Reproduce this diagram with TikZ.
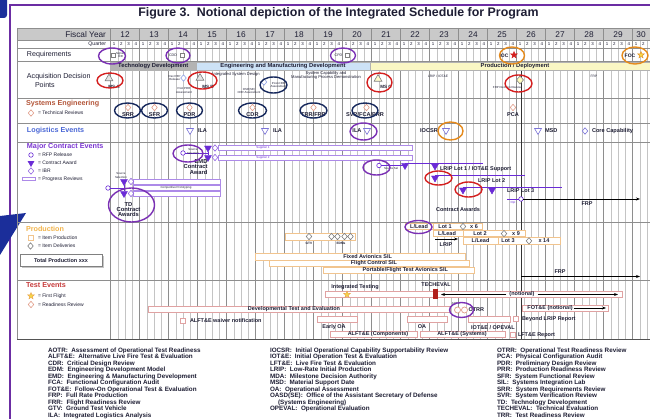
\documentclass[tikz,border=0pt]{standalone}
\usepackage{fontspec}
\setmainfont{Liberation Sans}
\usetikzlibrary{shapes.geometric,arrows.meta}

\definecolor{framevio}{HTML}{6B2DA3}
\definecolor{cornerblue}{HTML}{1B2E9A}
\definecolor{hdrgray}{HTML}{C9C9C9}
\definecolor{qgray}{HTML}{C4C4C4}
\definecolor{ygray}{HTML}{8E8E8E}
\definecolor{tdfill}{HTML}{B3B3B3}
\definecolor{emdfill}{HTML}{CDE2F6}
\definecolor{pdfill}{HTML}{FAF7C4}
\definecolor{msred}{HTML}{D41F1F}
\definecolor{revnavy}{HTML}{16285C}
\definecolor{ringvio}{HTML}{7A30B4}
\definecolor{ringorg}{HTML}{E58A1C}
\definecolor{sefg}{HTML}{B4573B}
\definecolor{logfg}{HTML}{4A67D6}
\definecolor{mcefg}{HTML}{7B36D2}
\definecolor{prodfg}{HTML}{F2B44C}
\definecolor{testfg}{HTML}{C73B3B}
\definecolor{prodline}{HTML}{F1C48E}
\definecolor{testline}{HTML}{E0A2A2}
\definecolor{award}{HTML}{6A2BD6}
\definecolor{revdia}{HTML}{E29E8A}
\definecolor{logtri}{HTML}{7C74D8}
\definecolor{ink}{HTML}{1E1E34}
\definecolor{techred}{HTML}{B0201C}
\definecolor{staryel}{HTML}{F5D547}

\tikzset{
  base/.style={inner sep=0pt, outer sep=0pt},
  rowlab/.style={base, anchor=west, text=ink, font=\fontsize{7.1}{8}\selectfont},
  grouplab/.style={base, anchor=west, font=\bfseries\fontsize{7.2}{8}\selectfont},
  keytxt/.style={base, anchor=west, text=ink, font=\fontsize{5}{6}\selectfont},
  tinytxt/.style={base, text=ink, align=center, font=\fontsize{2.9}{3.3}\selectfont},
  subtxt/.style={base, text=ink, align=center, font=\fontsize{4.1}{4.4}\selectfont},
  revtxt/.style={base, text=ink, font=\bfseries\fontsize{5.6}{6}\selectfont},
  mstxt/.style={base, text=ink, font=\bfseries\fontsize{4.6}{5}\selectfont},
  itemtxt/.style={base, text=ink, font=\bfseries\fontsize{5.5}{6}\selectfont},
  phase/.style={base, draw=gray!60, minimum height=7.5pt, text=ink, font=\bfseries\fontsize{5.8}{6}\selectfont},
  ring/.style={base, ellipse, draw=#1, line width=1.4pt},
  revdiamond/.style={base, diamond, draw=#1, fill=white, line width=0.6pt, minimum width=5.5pt, minimum height=6.5pt},
  downtri/.style={base, regular polygon, regular polygon sides=3, shape border rotate=180, draw=#1, fill=white, line width=0.6pt, minimum size=8pt},
  awardtri/.style={base, regular polygon, regular polygon sides=3, shape border rotate=180, draw=award, fill=award, minimum size=8pt},
  uptri/.style={base, regular polygon, regular polygon sides=3, draw=gray, fill=gray!20, line width=0.6pt, minimum size=9pt},
  rfpmark/.style={base, circle, draw=award, fill=white, line width=0.6pt, minimum size=4.5pt},
  sqmark/.style={base, rectangle, draw=#1, fill=white, line width=0.6pt, minimum size=4pt},
  starmark/.style={base, star, star points=5, star point ratio=2.3, draw=#1, fill=#1, minimum size=7pt},
  prodbar/.style={base, draw=prodline, fill=white, line width=0.7pt, minimum height=6.5pt},
  testbar/.style={base, draw=testline, fill=white, line width=0.7pt, minimum height=6pt},
  conbar/.style={base, draw=award!55, fill=white, line width=0.7pt, minimum height=5pt},
  conline/.style={draw=award, line width=0.9pt},
  blackarrow/.style={draw=black, line width=0.7pt, -{Stealth[length=4pt,width=3pt]}},
  qline/.style={draw=qgray, line width=0.4pt},
  yline/.style={draw=ygray, line width=0.5pt},
  rline/.style={draw=ygray, line width=0.6pt},
  gloss/.style={base, anchor=north west, align=left, text=ink, font=\bfseries\fontsize{6.3}{6.5}\selectfont},
}

\begin{document}
\begin{tikzpicture}[x=1pt,y=-1pt]
\useasboundingbox (0,0) rectangle (650,419);
\fill[white] (0,0) rectangle (650,419);

% ---------- outer frame and corner marks ----------
\draw[framevio, line width=2pt] (10,419) -- (10,5) -- (650,5);
\fill[cornerblue, rounded corners=3pt] (-5,-5) rectangle (7,18);
\fill[cornerblue] (0,216) -- (26,213) -- (0,255) -- cycle;

\node[base, text=ink, font=\bfseries\fontsize{12.4}{13}\selectfont] (title) at (338.5,13.5)
  {Figure 3.\ \ Notional depiction of the Integrated Schedule for Program};

% ---------- table skeleton ----------
\fill[hdrgray] (17,28) rectangle (650,40);
\begin{scope}
  \clip (17,28) rectangle (650,340);
  \foreach \i in {1,...,75}{
    \pgfmathtruncatemacro\r{mod(\i,4)}
    \ifnum\r=0
      \draw[yline] ({110.5+\i*7.25},28) -- ({110.5+\i*7.25},339);
    \else
      \draw[qline] ({110.5+\i*7.25},40) -- ({110.5+\i*7.25},339);
    \fi
  }
\end{scope}
\draw[yline] (110.5,28) -- (110.5,339);
\foreach \yy in {28,40,48,61,98,123,142,222,280}
  \draw[rline] (17,\yy) -- (650,\yy);
\draw[rline] (17,28) -- (17,339);
\draw[gray!65!black, line width=1.3pt] (17,339.5) -- (650,339.5);
\draw[gray!40!black, line width=0.6pt] (521,70) -- (521,339);

% ---------- header ----------
\node[base, anchor=east, text=ink, font=\fontsize{8.3}{9}\selectfont] (fylab) at (106,34.3) {Fiscal Year};
\foreach \k [count=\i from 0] in {12,...,29}
  \node[base, text=ink, font=\fontsize{8.3}{9}\selectfont] (fy\k) at ({125+\i*29},34.3) {\k};
\node[base, text=ink, font=\fontsize{8.3}{9}\selectfont] (fy30) at (641,34.3) {30};
\node[base, anchor=east, text=ink, font=\fontsize{5.2}{6}\selectfont] (qlab) at (106,44.2) {Quarter};
\foreach \i in {0,...,73}{
  \pgfmathtruncatemacro\q{mod(\i,4)+1}
  \node[base, text=ink, font=\fontsize{4.4}{5}\selectfont] (q\i) at ({114.1+\i*7.25},44.3) {\q};
}

% ---------- row labels ----------
\node[rowlab] (reqlab) at (27,55) {Requirements};
\node[rowlab] (adplab1) at (27,76.5) {Acquisition Decision};
\node[rowlab] (adplab2) at (35,84.5) {Points};

% ---------- requirements ----------
\node[sqmark=gray] (icdsq) at (113,55) {};
\node[tinytxt, anchor=west] (icdtx) at (116,55) {Signed\\ICD};
\node[tinytxt, font=\fontsize{3.6}{4}\selectfont] (cddtx) at (173,55) {CDD};
\node[sqmark=gray] (cddsq) at (182.5,55) {};
\node[tinytxt, font=\fontsize{3.6}{4}\selectfont] (cpdtx) at (338.5,55) {CPD};
\node[sqmark=gray] (cpdsq) at (347,55) {};
\node[mstxt, font=\bfseries\fontsize{5}{5}\selectfont] (ioctx) at (504,55.5) {IOC};
\node[starmark=msred] (iocst) at (514,55) {};
\node[mstxt, font=\bfseries\fontsize{5}{5}\selectfont] (foctx) at (630,55.5) {FOC};
\node[starmark=staryel, draw=ringorg] (focst) at (641,55) {};

% ---------- acquisition phases and decision points ----------
\node[phase, fill=tdfill, minimum width=85.5pt] (tdph) at (153.25,66.25) {Technology Development};
\node[phase, fill=emdfill, minimum width=174pt] (emdph) at (283,66.25) {Engineering and Manufacturing Development};
\node[phase, fill=pdfill, minimum width=290pt] (pdph) at (515,66.25) {Production / Deployment};

\node[subtxt] (isdtx) at (236,74.5) {Integrated System Design};
\node[subtxt] (scmpd) at (326,75.5) {System Capability and\\Manufacturing Process Demonstration};
\node[subtxt, font=\fontsize{3.3}{3.6}\selectfont] (lripiot) at (438,76.5) {LRIP / IOT\&E};
\node[subtxt, font=\fontsize{3.3}{3.6}\selectfont] (frpph) at (594,76.5) {FRP};

\node[uptri] (msAtri) at (109,78.5) {};
\node[mstxt] (msAtx) at (114,86.5) {MS A};
\node[tinytxt, anchor=east] (devrfptx) at (180.5,78) {Dev RFP\\Release};
\node[revdiamond=logfg!60] (devrfp) at (183.5,78) {};
\node[uptri] (msBtri) at (200,78) {};
\node[mstxt] (msBtx) at (208,86.5) {MS B};
\node[tinytxt] (ppdr) at (184,90.5) {Post PDR\\Assessment};
\node[revdiamond=logfg!60] (pcdrd) at (264,82) {};
\node[tinytxt] (pcdrtx) at (278.5,85) {Post-CDR\\Assessment};
\node[tinytxt] (osdse) at (249,91) {OSD(SE)\\CDR Assessment};
\node[uptri, fill=yellow!20] (msCtri) at (378,79) {};
\node[mstxt] (msCtx) at (386,86.5) {MS C};
\node[revdiamond=gray, fill=yellow!25, minimum width=7pt, minimum height=8pt] (frpdr) at (520,80) {};
\node[tinytxt] (frpdrtx) at (507,87.5) {FRP Decision Review};

% ---------- systems engineering ----------
\node[grouplab, text=sefg] (selab) at (26,103.5) {Systems Engineering};
\node[revdiamond=revdia] (sekey) at (31,113) {};
\node[keytxt] (sekeytx) at (38,113) {= Technical Reviews};

\node[revdiamond=revdia] (dSRR) at (128,107.5) {};
\node[revtxt] (tSRR) at (128,114.5) {SRR};
\node[revdiamond=revdia] (dSFR) at (154.5,107.5) {};
\node[revtxt] (tSFR) at (154.5,114.5) {SFR};
\node[revdiamond=revdia] (dPDR) at (189.5,107.5) {};
\node[revtxt] (tPDR) at (189.5,114.5) {PDR};
\node[revdiamond=revdia] (dCDR) at (252.5,107.5) {};
\node[revtxt] (tCDR) at (252.5,114.5) {CDR};
\node[revdiamond=revdia] (dTRR) at (313.5,107.5) {};
\node[revtxt] (tTRR) at (313.5,114.5) {TRR/FRR};
\node[revdiamond=revdia] (dSVR) at (366.5,107.5) {};
\node[revtxt] (tSVR) at (365,114.5) {SVR/FCA/PRR};
\node[revdiamond=revdia] (dPCA) at (513,107.5) {};
\node[revtxt] (tPCA) at (513,114.5) {PCA};

% ---------- logistics ----------
\node[grouplab, text=logfg] (loglab) at (27,130.5) {Logistics Events};
\node[downtri=logtri] (ila1) at (190,130.5) {};
\node[revtxt, anchor=west] (ila1t) at (198,131) {ILA};
\node[downtri=logtri] (ila2) at (265,130.5) {};
\node[revtxt, anchor=west] (ila2t) at (273,131) {ILA};
\node[revtxt] (ila3t) at (357,131) {ILA};
\node[downtri=logtri] (ila3) at (367,130.5) {};
\node[revtxt] (iocsrt) at (429,131) {IOCSR};
\node[downtri=logtri] (iocsr) at (446,130.5) {};
\node[downtri=logtri] (msd) at (538,130.5) {};
\node[revtxt, anchor=west] (msdt) at (545,131) {MSD};
\node[revdiamond=logtri] (corecap) at (585,131) {};
\node[revtxt, anchor=west] (corecapt) at (592,131) {Core Capability};

% ---------- major contract events ----------
\node[grouplab, text=mcefg] (mcelab) at (27,147) {Major Contract Events};
\node[rfpmark] (mck1) at (31,155) {};
\node[keytxt] (mck1t) at (38,155) {= RFP Release};
\node[awardtri, minimum size=7pt] (mck2) at (31,163) {};
\node[keytxt] (mck2t) at (38,163) {= Contract Award};
\node[revdiamond=award!70] (mck3) at (31,171) {};
\node[keytxt] (mck3t) at (38,171) {= IBR};
\node[conbar, minimum width=13pt, minimum height=3pt] (mck4) at (28.5,179) {};
\node[keytxt] (mck4t) at (38,179) {= Progress Reviews};

% TD phase contracts
\node[tinytxt] (tdss) at (121,175.5) {Source\\Selection};
\node[conbar, anchor=west, minimum width=87pt] (tdbar1) at (133,181.5) {};
\node[conbar, anchor=west, minimum width=87pt] (tdbar2) at (133,187.5) {};
\node[conbar, anchor=west, minimum width=87pt] (tdbar3) at (133,193.5) {};
\node[tinytxt] (cptx) at (176,187.5) {Competitive Prototyping};
\node[rfpmark] (tdrfp) at (108,188) {};
\coordinate (tdj) at (124,188);
\node[awardtri] (tdaw1) at (124,181.5) {};
\node[awardtri] (tdaw2) at (124,193.5) {};
\draw[conline] (tdrfp) -- (tdj);
\draw[conline] (tdaw1) -- (tdaw2);
\node[revdiamond=award!70] (tdibr1) at (131,181.5) {};
\node[revdiamond=award!70] (tdibr2) at (131,193.5) {};
\node[revtxt, align=center, font=\bfseries\fontsize{5.8}{5.4}\selectfont] (tdca) at (128.5,209.5) {TD\\Contract\\Awards};

% EMD contracts
\node[conbar, anchor=west, minimum width=194pt] (sup1) at (218,148) {};
\node[conbar, anchor=west, minimum width=194pt] (sup2) at (218,157.5) {};
\node[tinytxt, text=award] (sup1t) at (263,148) {Supplier 1};
\node[tinytxt, text=award] (sup2t) at (263,157.5) {Supplier 2};
\node[rfpmark] (emdrfp) at (183,153) {};
\coordinate (emdj) at (208,153);
\node[awardtri] (emdaw1) at (208,148) {};
\node[awardtri] (emdaw2) at (208,157.5) {};
\draw[conline] (emdrfp) -- (emdj);
\draw[conline] (emdaw1) -- (emdaw2);
\node[tinytxt, anchor=west] (emdss) at (187,151.5) {Source\\Selection};
\node[revdiamond=award!70] (emdibr1) at (215,148) {};
\node[revdiamond=award!70] (emdibr2) at (215,157.5) {};
\node[revtxt, anchor=east, align=right, font=\bfseries\fontsize{5.8}{5.3}\selectfont] (emdca) at (207.5,167) {EMD\\Contract\\Award};

% production contracts
\node[rfpmark] (prdrfp) at (379,165.5) {};
\node[tinytxt, anchor=west] (prdss) at (384,168.5) {Source Sel};
\node[awardtri] (lot1aw) at (405,165.5) {};
\draw[conline] (prdrfp) -- (lot1aw);
\coordinate (l1s) at (405,163.2);
\coordinate (l1e) at (483,163.2);
\draw[conline] (l1s) -- (l1e);
\node[awardtri] (lot1bw) at (435,166) {};
\node[itemtxt, anchor=west] (lot1tx) at (440,169.5) {LRIP Lot 1 / IOT\&E Support};
\coordinate (l2s) at (435,175.5);
\coordinate (l2e) at (525,175.5);
\draw[conline] (l2s) -- (l2e);
\node[awardtri] (lot2aw) at (435,178) {};
\node[itemtxt, anchor=west] (lot2tx) at (478,181) {LRIP Lot 2};
\coordinate (l3s) at (463,187.5);
\coordinate (l3e) at (562,187.5);
\draw[conline] (l3s) -- (l3e);
\node[awardtri] (lot3aw) at (463,190) {};
\node[awardtri] (lot3bw) at (492,190) {};
\node[itemtxt, anchor=west] (lot3tx) at (507,191) {LRIP Lot 3};
\coordinate (optS) at (507,199);
\node[rfpmark] (optc) at (521,199) {};
\draw[conline] (optS) -- (optc);
\coordinate (frpE) at (640,199);
\draw[blackarrow] (optc) -- (frpE);
\node[tinytxt, text=award] (opttx) at (513,202.5) {Opt};
\node[itemtxt] (frpca) at (587,204) {FRP};
\node[itemtxt] (conawd) at (458,209.5) {Contract Awards};

% ---------- production ----------
\node[grouplab, text=prodfg] (prodlab) at (26,228.5) {Production};
\node[sqmark=prodline, minimum size=5pt] (pk1) at (30.5,238) {};
\node[keytxt] (pk1t) at (38,238) {= Item Production};
\node[revdiamond=gray] (pk2) at (30.5,246) {};
\node[keytxt] (pk2t) at (38,246) {= Item Deliveries};
\fill[gray!45] (22,256) rectangle (104,268);
\node[base, draw=gray, line width=0.9pt, fill=white, minimum width=82pt, minimum height=12pt,
      font=\bfseries\fontsize{5.5}{6}\selectfont, text=ink] (totprod) at (61,260.5) {Total Production xxx};

\node[prodbar, anchor=west, minimum width=70pt, minimum height=7pt] (gtvbar) at (285,236.5) {};
\node[revdiamond=gray] (gtvd) at (309,236.5) {};
\node[tinytxt, font=\bfseries\fontsize{3.2}{3.5}\selectfont] (gtvt) at (309,243.2) {GTV};
\node[revdiamond=gray] (edm1) at (331.5,236.5) {};
\node[revdiamond=gray] (edm2) at (337.5,236.5) {};
\node[revdiamond=gray] (edm3) at (344.5,236.5) {};
\node[revdiamond=gray] (edm4) at (350.5,236.5) {};
\draw[gray, line width=0.5pt] (edm1) -- (edm2);
\draw[gray, line width=0.5pt] (edm3) -- (edm4);
\node[tinytxt, font=\bfseries\fontsize{3.2}{3.5}\selectfont] (edmt) at (341,243.5) {EDMs};

\node[prodbar, anchor=west, minimum width=28pt] (ll1) at (405,226.5) {};
\node[itemtxt] (ll1t) at (419,226.5) {L/Lead};
\node[prodbar, anchor=west, minimum width=49pt] (lot1b) at (433,226.5) {};
\node[itemtxt] (lot1t) at (445,226.5) {Lot 1};
\node[revdiamond=gray] (lot1d) at (463,226.5) {};
\node[itemtxt] (lot1n) at (474,226.5) {x 6};
\node[prodbar, anchor=west, minimum width=30pt] (ll2) at (433,233.6) {};
\node[itemtxt] (ll2t) at (447,233.6) {L/Lead};
\node[prodbar, anchor=west, minimum width=62pt] (lot2b) at (463,233.6) {};
\node[itemtxt] (lot2t) at (480,233.6) {Lot 2};
\node[revdiamond=gray] (lot2d) at (504,233.6) {};
\node[itemtxt] (lot2n) at (516,233.6) {x 9};
\node[prodbar, anchor=west, minimum width=35pt] (ll3) at (463,240.9) {};
\node[itemtxt] (ll3t) at (480.5,240.9) {L/Lead};
\node[prodbar, anchor=west, minimum width=62pt] (lot3b) at (498,240.9) {};
\node[itemtxt] (lot3t) at (508,240.9) {Lot 3};
\node[revdiamond=gray] (lot3d) at (529,240.9) {};
\node[itemtxt] (lot3n) at (544,240.9) {x 14};
\coordinate (lrA) at (435,239);
\coordinate (lrB) at (458,239);
\draw[blackarrow] (lrA) -- (lrB);
\node[itemtxt] (lriptx) at (446,245) {LRIP};

\node[prodbar, anchor=west, minimum width=210pt] (silA) at (255,256.8) {};
\node[itemtxt, anchor=east] (silAt) at (392,256.8) {Fixed Avionics SIL};
\node[prodbar, anchor=west, minimum width=200pt] (silB) at (269,263.5) {};
\node[itemtxt, anchor=east] (silBt) at (397,263.5) {Flight Control SIL};
\node[prodbar, anchor=west, minimum width=151pt] (silC) at (323,270.3) {};
\node[itemtxt, anchor=east] (silCt) at (448,270.3) {Portable/Flight Test Avionics SIL};

\coordinate (pfrpS) at (521,276.5);
\coordinate (pfrpE) at (640,276.5);
\draw[blackarrow] (pfrpS) -- (pfrpE);
\node[itemtxt] (pfrpt) at (560,272) {FRP};

% ---------- test events ----------
\node[grouplab, text=testfg] (testlab) at (26,285.5) {Test Events};
\node[starmark=staryel, draw=ringorg!80] (tk1) at (31,296) {};
\node[keytxt] (tk1t) at (38,296.5) {= First Flight};
\node[revdiamond=revdia] (tk2) at (31,304.5) {};
\node[keytxt] (tk2t) at (38,304.5) {= Readiness Review};

\node[itemtxt] (ittx) at (355,287.5) {Integrated Testing};
\node[itemtxt] (techtx) at (436,284.5) {TECHEVAL};
\node[testbar, anchor=west, minimum width=297pt] (itbar) at (325,294.5) {};
\node[starmark=staryel, draw=ringorg!80] (ffst) at (347,294.5) {};
\node[base, fill=techred, minimum width=5pt, minimum height=10pt] (techbar) at (435.5,294.2) {};
\node[itemtxt] (notl) at (522,294.5) {(notional)};
\coordinate (nL) at (441,294.5);
\coordinate (nR) at (618,294.5);
\draw[blackarrow, shorten <=3pt] (notl) -- (nL);
\draw[blackarrow, shorten <=3pt] (notl) -- (nR);

\node[testbar, anchor=west, minimum width=302pt] (dtebar) at (148,309.5) {};
\node[itemtxt] (dtetx) at (294,309.5) {Developmental Test and Evaluation};
\node[tinytxt] (aotr) at (456,303.5) {AOTR};
\node[base, circle, draw=revdia, fill=white, line width=0.7pt, minimum size=6pt] (otrrA) at (457.5,310) {};
\node[base, circle, draw=revdia, fill=white, line width=0.7pt, minimum size=6pt] (otrrB) at (464.5,310) {};
\node[itemtxt, anchor=west] (otrrt) at (468.5,310) {OTRR};

\node[testbar, anchor=west, minimum width=86pt] (fotbar) at (522,308) {};
\node[itemtxt] (fottx) at (550,308) {FOT\&E (notional)};
\coordinate (fotE) at (606,308);
\draw[blackarrow, shorten <=1pt] (fottx) -- (fotE);

\node[sqmark=testline, minimum size=5pt] (waivsq) at (183,321) {};
\node[itemtxt, anchor=west] (waivt) at (190,321) {ALFT\&E waiver notification};
\node[testbar, anchor=west, minimum width=40pt] (eoabar) at (317,319) {};
\node[itemtxt] (eoat) at (334,327) {Early OA};
\node[testbar, anchor=west, minimum width=40pt] (oabar) at (407,319) {};
\node[itemtxt] (oat) at (422,327) {OA};
\node[testbar, anchor=west, minimum width=42pt] (iotbar) at (468,319) {};
\node[itemtxt] (iott) at (493,327.5) {IOT\&E / OPEVAL};
\node[sqmark=testline, minimum size=5pt] (blrsq) at (516,319) {};
\node[itemtxt, anchor=west] (blrt) at (522,319) {Beyond LRIP Report};
\node[testbar, anchor=west, minimum width=87pt] (alfcbar) at (330,334.5) {};
\node[itemtxt] (alfct) at (378,334.5) {ALFT\&E (Components)};
\node[testbar, anchor=west, minimum width=85pt] (alfsbar) at (420,334.5) {};
\node[itemtxt] (alfst) at (462,334.5) {ALFT\&E (Systems)};
\node[sqmark=testline, minimum size=5pt] (lftsq) at (513,335) {};
\node[itemtxt, anchor=west] (lftt) at (518,335) {LFT\&E Report};

% ---------- highlight rings ----------
\node[ring=ringvio, minimum width=27pt, minimum height=16pt] (rICD) at (112,56) {};
\node[ring=ringvio, minimum width=24pt, minimum height=15pt] (rCDD) at (178,55.5) {};
\node[ring=ringvio, minimum width=25pt, minimum height=15pt] (rCPD) at (343,55.5) {};
\node[ring=ringorg, minimum width=25pt, minimum height=17pt] (rIOC) at (512,55.5) {};
\node[ring=ringorg, minimum width=26pt, minimum height=17pt] (rFOC) at (635,55.5) {};
\node[ring=msred, minimum width=26pt, minimum height=15pt] (rMSA) at (110,80.5) {};
\node[ring=msred, minimum width=29pt, minimum height=17pt] (rMSB) at (202.5,80.5) {};
\node[ring=revnavy, minimum width=27pt, minimum height=16pt] (rCDRA) at (273.5,85) {};
\node[ring=msred, minimum width=25pt, minimum height=19pt] (rMSC) at (379.5,82.5) {};
\node[ring=msred, minimum width=27pt, minimum height=17pt] (rFRPD) at (518.5,83.5) {};
\node[ring=revnavy, minimum width=26pt, minimum height=15pt] (rSRR) at (127.5,110.5) {};
\node[ring=revnavy, minimum width=26pt, minimum height=15pt] (rSFR) at (154.5,110.5) {};
\node[ring=revnavy, minimum width=26pt, minimum height=15pt] (rPDR) at (189.5,110.5) {};
\node[ring=revnavy, minimum width=28pt, minimum height=15pt] (rCDR) at (252.5,110.5) {};
\node[ring=revnavy, minimum width=27pt, minimum height=15pt] (rTRR) at (313.5,110.5) {};
\node[ring=revnavy, minimum width=26pt, minimum height=15pt] (rSVR) at (365,110.5) {};
\node[ring=ringvio, minimum width=27pt, minimum height=17pt] (rILA) at (363.5,131.5) {};
\node[ring=ringorg, minimum width=25pt, minimum height=18pt] (rIOCSR) at (450.5,131) {};
\node[ring=ringvio, minimum width=30pt, minimum height=17pt] (rEMD) at (188,153.5) {};
\node[ring=ringvio, minimum width=46pt, minimum height=34pt] (rTD) at (131.5,205) {};
\node[ring=ringvio, minimum width=27pt, minimum height=15pt] (rPRD) at (376.5,167.5) {};
\node[ring=msred, minimum width=27pt, minimum height=14pt] (rLOT2) at (438.5,178) {};
\node[ring=msred, minimum width=27pt, minimum height=15pt] (rLOT3) at (468.5,189.5) {};
\node[ring=ringvio, minimum width=27pt, minimum height=13pt] (rLL) at (418.5,227) {};
\node[ring=ringvio, minimum width=24pt, minimum height=15pt] (rOTRR) at (461.5,310) {};

% ---------- glossary ----------
\node[gloss] (glossA) at (48,347.8) {%
AOTR:\ \ Assessment of Operational Test Readiness\\
ALFT\&E:\ \ Alternative Live Fire Test \& Evaluation\\
CDR:\ \ Critical Design Review\\
EDM:\ \ Engineering Development Model\\
EMD:\ \ Engineering \& Manufacturing Development\\
FCA:\ \ Functional Configuration Audit\\
FOT\&E:\ \ Follow-On Operational Test \& Evaluation\\
FRP:\ \ Full Rate Production\\
FRR:\ \ Flight Readiness Review\\
GTV:\ \ Ground Test Vehicle\\
ILA:\ \ Integrated Logistics Analysis};
\node[gloss] (glossB) at (270,347.8) {%
IOCSR:\ \ Initial Operational Capability Supportability Review\\
IOT\&E:\ \ Initial Operation Test \& Evaluation\\
LFT\&E:\ \ Live Fire Test \& Evaluation\\
LRIP:\ \ Low-Rate Initial Production\\
MDA:\ \ Milestone Decision Authority\\
MSD:\ \ Material Support Date\\
OA:\ \ Operational Assessment\\
OASD(SE):\ \ Office of the Assistant Secretary of Defense\\
\hspace*{8pt}(Systems Engineering)\\
OPEVAL:\ \ Operational Evaluation};
\node[gloss] (glossC) at (497,347.8) {%
OTRR:\ \ Operational Test Readiness Review\\
PCA:\ \ Physical Configuration Audit\\
PDR:\ \ Preliminary Design Review\\
PRR:\ \ Production Readiness Review\\
SFR:\ \ System Functional Review\\
SIL:\ \ Systems Integration Lab\\
SRR:\ \ System Requirements Review\\
SVR:\ \ System Verification Review\\
TD:\ \ Technology Development\\
TECHEVAL:\ \ Technical Evaluation\\
TRR:\ \ Test Readiness Review};
\end{tikzpicture}
\end{document}
